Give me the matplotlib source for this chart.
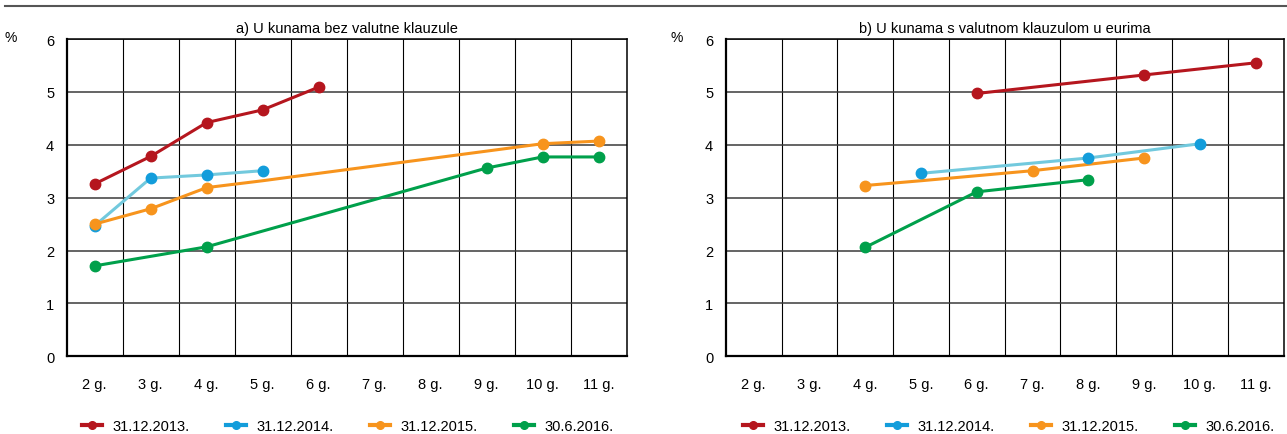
import matplotlib
matplotlib.use("Agg")
import matplotlib.pyplot as plt
from matplotlib.lines import Line2D
import numpy as np

plt.rcParams['font.family'] = ['Liberation Sans', 'DejaVu Sans']

# categories (maturity)
categories = ['2 g.', '3 g.', '4 g.', '5 g.', '6 g.', '7 g.', '8 g.', '9 g.', '10 g.', '11 g.']
series_names = ['31.12.2013.', '31.12.2014.', '31.12.2015.', '30.6.2016.']
nan = np.nan

# a) U kunama bez valutne klauzule
a_2013 = [3.26, 3.78, 4.42, 4.66, 5.09, nan, nan, nan, nan, nan]
a_2014 = [2.47, 3.37, 3.43, 3.51, nan, nan, nan, nan, nan, nan]
a_2015 = [2.50, 2.79, 3.19, 3.32, nan, nan, nan, nan, 4.02, 4.07]
a_2016 = [1.71, nan, 2.07, nan, nan, nan, nan, 3.56, 3.77, 3.77]
# which points carry a marker (others are only line vertices)
a_2015_marked = [1, 1, 1, 0, 0, 0, 0, 0, 1, 1]

# b) U kunama s valutnom klauzulom u eurima
b_2013 = [nan, nan, nan, nan, 4.97, nan, nan, 5.32, nan, 5.55]
b_2014 = [nan, nan, nan, 3.46, nan, nan, 3.75, nan, 4.02, nan]
b_2015 = [nan, nan, 3.23, 3.32, nan, 3.51, nan, 3.75, nan, nan]
b_2016 = [nan, nan, 2.06, nan, 3.11, nan, 3.34, nan, nan, nan]
b_2015_marked = [0, 0, 1, 0, 0, 1, 0, 1, 0, 0]

line_colors = ['#b5161e', '#72c9dd', '#f7941d', '#00a04b']
marker_colors = ['#b5161e', '#139ddb', '#f7941d', '#00a04b']

FS = 10.5

fig = plt.figure(figsize=(12.87, 4.35), dpi=100)
ax_a = fig.add_axes([0.0518, 0.1786, 0.435, 0.7294])
ax_b = fig.add_axes([0.5639, 0.1786, 0.4334, 0.7294])

x = np.arange(len(categories))


def draw_series(ax, vals, i, marked=None):
    v = np.array(vals, dtype=float)
    ok = ~np.isnan(v)
    ax.plot(x[ok], v[ok], color=line_colors[i], lw=2.2, solid_capstyle='round', zorder=3)
    if marked is None:
        m = ok
    else:
        m = ok & (np.array(marked) == 1)
    ax.plot(x[m], v[m], ls='', marker='o', ms=7.5, color=marker_colors[i], zorder=4)


def style(ax, title):
    ax.set_xlim(-0.5, len(categories) - 0.5)
    ax.set_ylim(0, 6)
    ax.set_xticks(x)
    ax.set_xticklabels(categories)
    ax.set_xticks(x[:-1] + 0.5, minor=True)
    ax.set_yticks(range(0, 7))
    ax.tick_params(axis='x', which='both', length=0, pad=15, labelsize=FS)
    ax.tick_params(axis='y', length=0, pad=9, labelsize=FS)
    ax.grid(axis='y', which='major', color='#3a3a3a', lw=1.1)
    ax.grid(axis='x', which='minor', color='black', lw=0.8)
    ax.set_axisbelow(True)
    for s in ax.spines.values():
        s.set_color('black')
        s.set_linewidth(1.1)
    ax.spines['left'].set_linewidth(1.6)
    ax.spines['bottom'].set_linewidth(1.6)
    ax.set_title(title, fontsize=FS, pad=5)


for ax, data, marks in [(ax_a, [a_2013, a_2014, a_2015, a_2016], {2: a_2015_marked}),
                        (ax_b, [b_2013, b_2014, b_2015, b_2016], {2: b_2015_marked})]:
    for i, vals in enumerate(data):
        draw_series(ax, vals, i, marks.get(i))

style(ax_a, 'a) U kunama bez valutne klauzule')
style(ax_b, 'b) U kunama s valutnom klauzulom u eurima')

fig.text(11 / 1287, 1 - 38 / 435, '%', fontsize=10, ha='center', va='center')
fig.text(677 / 1287, 1 - 38 / 435, '%', fontsize=10, ha='center', va='center')

# top rule
fig.add_artist(Line2D([0.004, 1.0], [1 - 6.7 / 435, 1 - 6.7 / 435], color='#555555', lw=1.5))

handles = [Line2D([], [], color=marker_colors[i], lw=3, marker='o', ms=5.5) for i in range(4)]
for x0 in [82 / 1287, 743 / 1287]:
    fig.legend(handles, series_names, loc='center left', bbox_to_anchor=(x0, 1 - 427 / 435),
               ncol=4, frameon=False, fontsize=FS, handlelength=1.37, handletextpad=0.72,
               columnspacing=2.5, borderpad=0, borderaxespad=0)

fig.savefig('out.png', dpi=100)
